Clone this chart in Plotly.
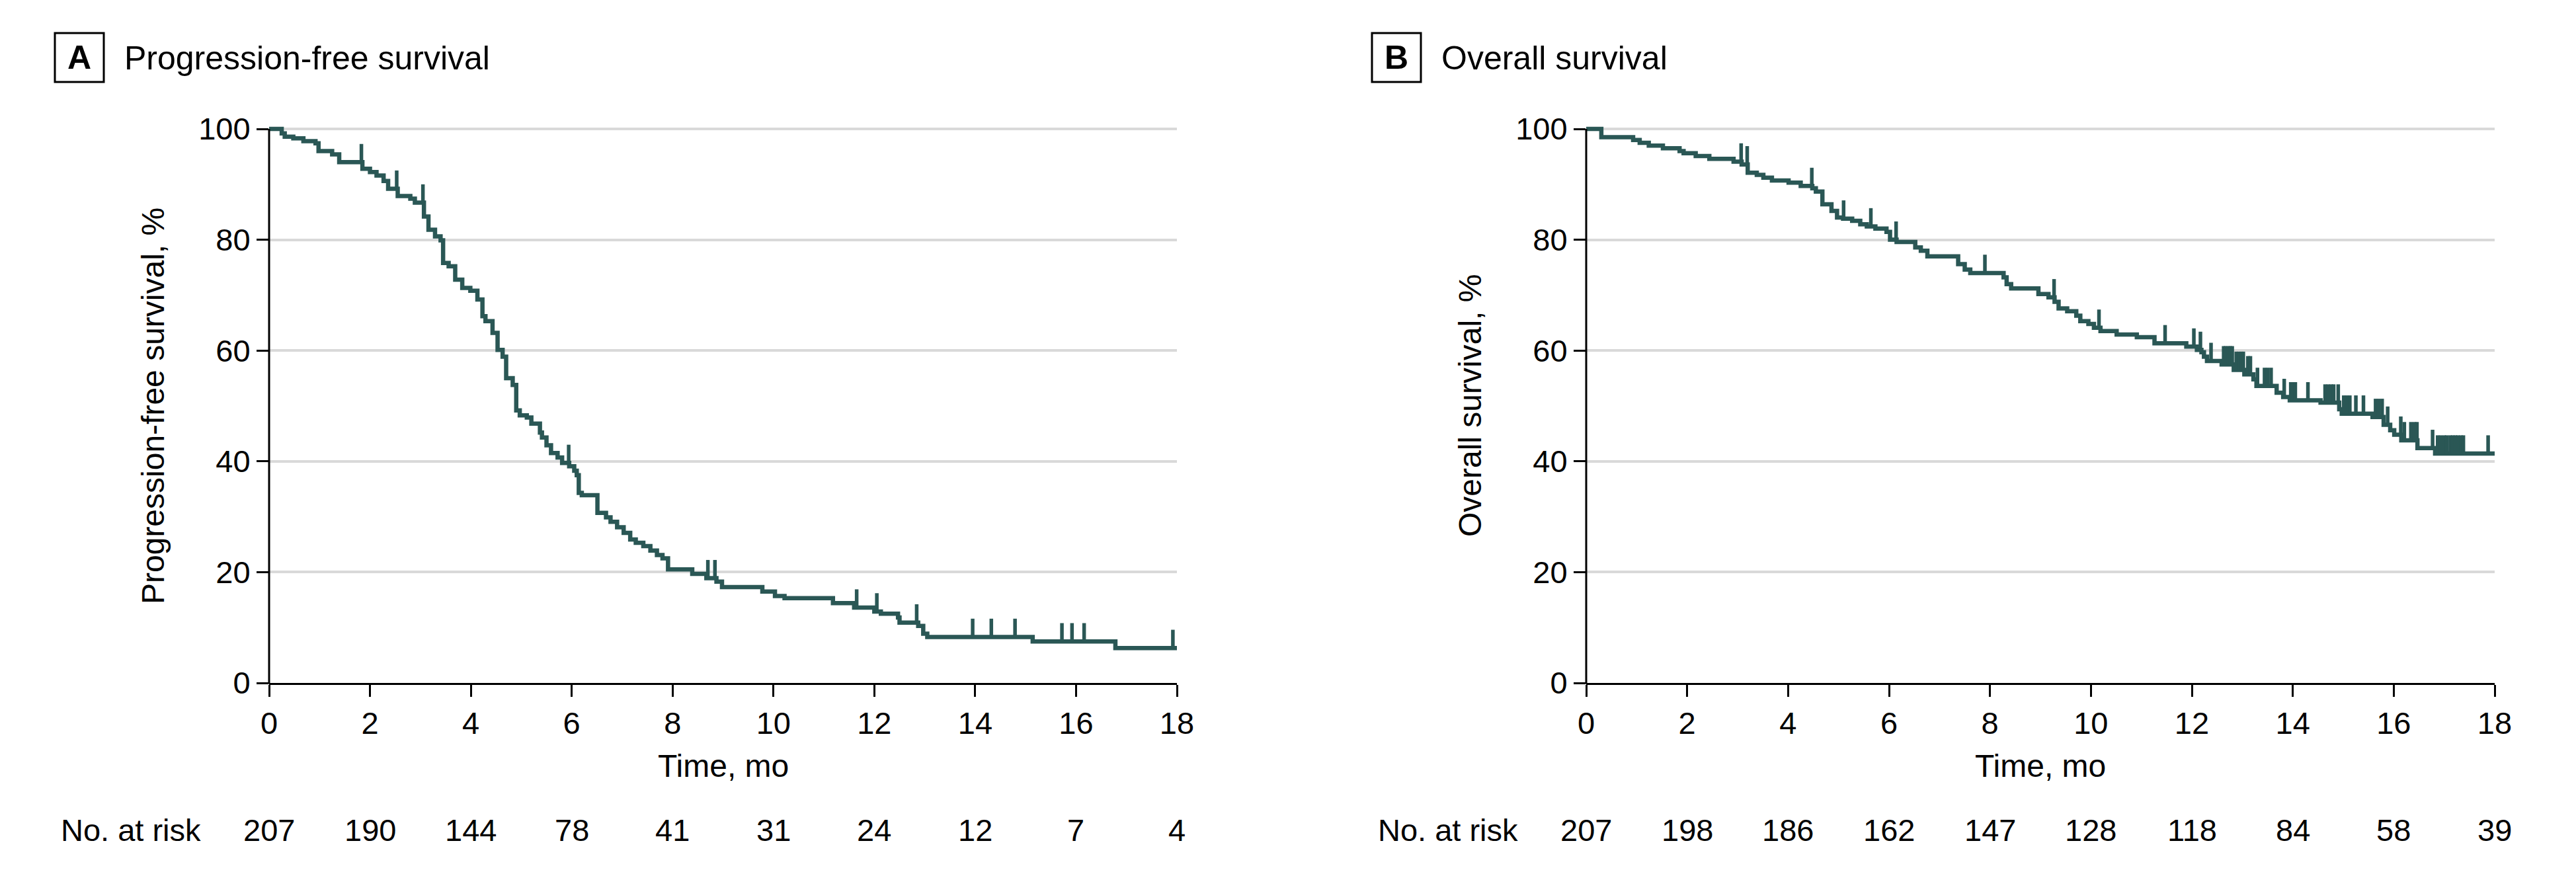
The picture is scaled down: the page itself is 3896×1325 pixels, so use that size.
import plotly.graph_objects as go

W, H = 3896, 1325

# ---------------- data ----------------
x_ticks = [0, 2, 4, 6, 8, 10, 12, 14, 16, 18]
y_ticks = [0, 20, 40, 60, 80, 100]

pfs_at_risk = [207, 190, 144, 78, 41, 31, 24, 12, 7, 4]
os_at_risk = [207, 198, 186, 162, 147, 128, 118, 84, 58, 39]

# Progression-free survival: event times (mo) and survival (%) after each drop
pfs_event_t = [0.25, 0.31, 0.48, 0.68, 0.92, 0.98, 1.25, 1.39, 1.85, 2.00, 2.13, 2.27, 2.36,
               2.55, 2.80, 2.89, 3.07, 3.16, 3.29, 3.40, 3.45, 3.56, 3.69, 3.83, 3.99, 4.13,
               4.23, 4.29, 4.43, 4.53, 4.63, 4.70, 4.83, 4.90, 4.97, 5.11, 5.20, 5.37, 5.41,
               5.50, 5.59, 5.72, 5.81, 5.95, 6.05, 6.10, 6.14, 6.20, 6.51, 6.68, 6.77, 6.90,
               7.03, 7.16, 7.27, 7.42, 7.56, 7.69, 7.80, 7.91, 8.39, 8.67, 8.87, 8.98, 9.78,
               10.03, 10.22, 11.18, 11.60, 12.00, 12.13, 12.47, 12.50, 12.87, 12.97, 13.05,
               15.14, 16.78]
pfs_event_s = [99.2, 98.6, 98.3, 97.8, 97.4, 96.0, 95.4, 94.0, 92.8, 92.2, 91.6, 90.6, 89.2,
               87.9, 87.4, 86.7, 84.2, 81.8, 80.6, 79.9, 75.8, 75.2, 72.8, 71.3, 70.8, 69.2,
               66.2, 65.3, 63.2, 60.1, 58.9, 55.0, 53.8, 49.2, 48.3, 47.9, 46.8, 45.2, 44.3,
               42.9, 41.5, 40.7, 39.7, 39.1, 38.3, 37.5, 34.3, 33.9, 30.7, 29.9, 29.1, 28.1,
               27.1, 25.9, 25.3, 24.7, 23.9, 23.1, 22.5, 20.5, 19.7, 18.9, 18.3, 17.3, 16.5,
               15.7, 15.3, 14.4, 13.6, 12.9, 12.5, 11.8, 10.9, 10.3, 8.9, 8.3,
               7.5, 6.3]
# censored observations (time, survival level)
pfs_cens_t = [1.83, 2.53, 3.05, 5.94, 8.70, 8.84, 11.65, 12.05, 12.84,
              13.95, 14.32, 14.79, 15.72, 15.92, 16.16, 17.92]
pfs_cens_s = [94.0, 89.2, 86.7, 39.7, 18.9, 18.9, 13.6, 12.9, 10.9,
              8.3, 8.3, 8.3, 7.5, 7.5, 7.5, 6.3]

# Overall survival
os_event_t = [0.30, 0.93, 1.06, 1.24, 1.52, 1.85, 1.93, 2.17, 2.44, 2.92, 3.08, 3.20, 3.38,
              3.51, 3.68, 4.01, 4.25, 4.48, 4.55, 4.68, 4.86, 4.97, 5.09, 5.27, 5.43, 5.56,
              5.73, 5.95, 6.02, 6.15, 6.52, 6.63, 6.76, 7.37, 7.50, 7.61, 8.27, 8.33, 8.42,
              8.96, 9.16, 9.28, 9.36, 9.53, 9.71, 9.79, 9.95, 10.06, 10.19, 10.51, 10.91,
              11.26, 11.89, 12.10, 12.19, 12.24, 12.30, 12.59, 12.83, 13.04, 13.22, 13.28,
              13.68, 13.81, 13.94, 14.55, 14.92, 14.97, 15.58, 15.80, 15.93, 16.01, 16.15,
              16.47, 16.82]
os_event_s = [98.5, 98.0, 97.5, 97.0, 96.5, 96.0, 95.6, 95.1, 94.6, 94.1, 93.6, 92.1, 91.7,
              91.2, 90.7, 90.3, 89.7, 89.3, 88.7, 86.4, 85.2, 84.0, 83.8, 83.4, 82.8, 82.4,
              82.0, 81.4, 80.0, 79.6, 78.6, 78.0, 77.0, 75.6, 74.6, 74.0, 73.2, 72.0, 71.2,
              70.2, 69.6, 68.8, 67.6, 67.1, 66.3, 65.3, 64.8, 64.1, 63.5, 62.9, 62.4,
              61.3, 60.7, 60.1, 59.7, 58.9, 58.1, 57.5, 56.5, 55.7, 54.8, 53.6,
              52.4, 51.6, 51.0, 50.6, 49.4, 48.6, 48.0, 46.6, 45.6, 44.8, 43.8,
              42.4, 41.4]
os_cens_t = [3.07, 3.19, 4.47, 5.10, 5.64, 6.14, 7.90, 9.27, 10.16, 11.47, 12.04, 12.17,
             12.38, 12.63, 12.67, 12.72, 12.76, 12.80, 12.88, 12.93, 12.98, 13.02, 13.11,
             13.16, 13.30, 13.44, 13.50, 13.57, 13.83, 13.96, 14.00, 14.05, 14.30, 14.64,
             14.70, 14.76, 14.81, 14.90, 15.01, 15.07, 15.13, 15.25, 15.40, 15.64, 15.70,
             15.77, 15.88, 16.14, 16.21, 16.34, 16.41, 16.46, 16.77, 16.87, 16.93, 17.00,
             17.05, 17.12, 17.17, 17.22, 17.27, 17.33, 17.38, 17.87]
os_cens_s = [94.1, 93.6, 89.7, 83.8, 82.4, 80.0, 74.0, 69.6, 64.1, 61.3, 60.7, 60.1,
             58.1, 57.5, 57.5, 57.5, 57.5, 57.5, 56.5, 56.5, 56.5, 56.5, 55.7,
             55.7, 53.6, 53.6, 53.6, 53.6, 51.6, 51.0, 51.0, 51.0, 51.0, 50.6,
             50.6, 50.6, 50.6, 50.6, 48.6, 48.6, 48.6, 48.6, 48.6, 48.0, 48.0,
             48.0, 46.6, 44.8, 43.8, 43.8, 43.8, 43.8, 42.4, 41.4, 41.4, 41.4,
             41.4, 41.4, 41.4, 41.4, 41.4, 41.4, 41.4, 41.4]

panel_titles = ["Progression-free survival", "Overall survival"]
panel_letters = ["A", "B"]
y_titles = ["Progression-free survival, %", "Overall survival, %"]
x_title = "Time, mo"
risk_label = "No. at risk"

# ---------------- styling / geometry ----------------
FONT = "Liberation Sans, Arial, sans-serif"
CURVE = "#2a5755"
GRID = "#d9d9d9"
T_MAX = 18
Y_TOP = 101.5
CENS_H = 3.3

px_x = lambda p: p / W
px_y = lambda p: 1 - p / H

axis_left = [407, 2399]
axis_right = [1780, 3773]
y0_px, y100_px = 1033, 195
ytop_px = y0_px - (y0_px - y100_px) * Y_TOP / 100

fig = go.Figure()


def step_xy(ts, ss):
    xs = [0] + list(ts) + [T_MAX]
    ys = [100] + list(ss) + [ss[-1]]
    return xs, ys


def cens_xy(ts, ss):
    xs, ys = [], []
    for t, s in zip(ts, ss):
        xs += [t, t, None]
        ys += [s, s + CENS_H, None]
    return xs, ys


datasets = [(pfs_event_t, pfs_event_s, pfs_cens_t, pfs_cens_s, pfs_at_risk),
            (os_event_t, os_event_s, os_cens_t, os_cens_s, os_at_risk)]

annotations = []
shapes = []
for i, (et, es, ct, cs, risk) in enumerate(datasets):
    xa = "x" if i == 0 else "x2"
    ya = "y" if i == 0 else "y2"
    sx, sy = step_xy(et, es)
    fig.add_trace(go.Scatter(x=sx, y=sy, mode="lines", line=dict(color=CURVE, width=6.5, shape="hv"),
                             xaxis=xa, yaxis=ya, hoverinfo="skip"))
    cx, cy = cens_xy(ct, cs)
    fig.add_trace(go.Scatter(x=cx, y=cy, mode="lines", line=dict(color=CURVE, width=5.5),
                             xaxis=xa, yaxis=ya, hoverinfo="skip", connectgaps=False))

    L = axis_left[i]
    R = axis_right[i]
    # y axis line (0..100)
    shapes.append(dict(type="line", xref="paper", yref="paper",
                       x0=px_x(L), x1=px_x(L), y0=px_y(y0_px + 1.5), y1=px_y(y100_px),
                       line=dict(color="black", width=3)))
    # letter box
    shapes.append(dict(type="rect", xref="paper", yref="paper",
                       x0=px_x(L - 324), x1=px_x(L - 250), y0=px_y(124), y1=px_y(50),
                       line=dict(color="black", width=3)))
    annotations.append(dict(text="<b>%s</b>" % panel_letters[i], xref="paper", yref="paper",
                            x=px_x(L - 287), y=px_y(87), xanchor="center", yanchor="middle",
                            showarrow=False, font=dict(family=FONT, size=50, color="black")))
    annotations.append(dict(text=panel_titles[i], xref="paper", yref="paper",
                            x=px_x(L - 221), y=px_y(88), xanchor="left", yanchor="middle",
                            showarrow=False, font=dict(family=FONT, size=50, color="black")))
    # axis titles
    annotations.append(dict(text=y_titles[i], xref="paper", yref="paper", textangle=-90,
                            x=px_x(L - 176), y=px_y((y0_px + y100_px) / 2),
                            xanchor="center", yanchor="middle", showarrow=False,
                            font=dict(family=FONT, size=48, color="black")))
    annotations.append(dict(text=x_title, xref="paper", yref="paper",
                            x=px_x((L + R) / 2), y=px_y(1158), xanchor="center", yanchor="middle",
                            showarrow=False, font=dict(family=FONT, size=48, color="black")))
    # number at risk
    annotations.append(dict(text=risk_label, xref="paper", yref="paper",
                            x=px_x(L - 101), y=px_y(1255), xanchor="right", yanchor="middle",
                            showarrow=False, font=dict(family=FONT, size=47, color="black")))
    for t, n in zip(x_ticks, risk):
        annotations.append(dict(text=str(n), xref=xa, yref="paper", x=t, y=px_y(1255),
                                xanchor="center", yanchor="middle", showarrow=False,
                                font=dict(family=FONT, size=47, color="black")))

xaxis_common = dict(range=[0, T_MAX], tickvals=x_ticks, ticktext=[str(v) for v in x_ticks],
                    ticks="outside", ticklen=18, tickwidth=3, tickcolor="black",
                    showline=True, linewidth=3, linecolor="black", showgrid=False,
                    zeroline=False, tickfont=dict(family=FONT, size=47, color="black"),
                    fixedrange=True, automargin=False)
yaxis_common = dict(range=[0, Y_TOP], tickvals=y_ticks, ticktext=[str(v) for v in y_ticks],
                    ticks="outside", ticklen=18, tickwidth=3, tickcolor="black",
                    showline=False, showgrid=True, gridcolor=GRID, gridwidth=4,
                    zeroline=False, tickfont=dict(family=FONT, size=47, color="black"),
                    domain=[px_y(y0_px), px_y(ytop_px)], fixedrange=True, automargin=False)

fig.update_layout(
    width=W, height=H,
    margin=dict(l=0, r=0, t=0, b=0, pad=0),
    paper_bgcolor="white", plot_bgcolor="white",
    showlegend=False,
    font=dict(family=FONT, color="black"),
    xaxis=dict(domain=[px_x(axis_left[0]), px_x(axis_right[0])], anchor="y", **xaxis_common),
    yaxis=dict(anchor="x", **yaxis_common),
    xaxis2=dict(domain=[px_x(axis_left[1]), px_x(axis_right[1])], anchor="y2", **xaxis_common),
    yaxis2=dict(anchor="x2", **yaxis_common),
    annotations=annotations,
    shapes=shapes,
)

fig.write_html(
    "out.html",
    config={"displayModeBar": False},
    post_script=("document.body.style.margin='0';document.body.style.padding='0';"
                 "document.documentElement.style.overflow='hidden';"
                 "document.body.style.overflow='hidden';"),
)
